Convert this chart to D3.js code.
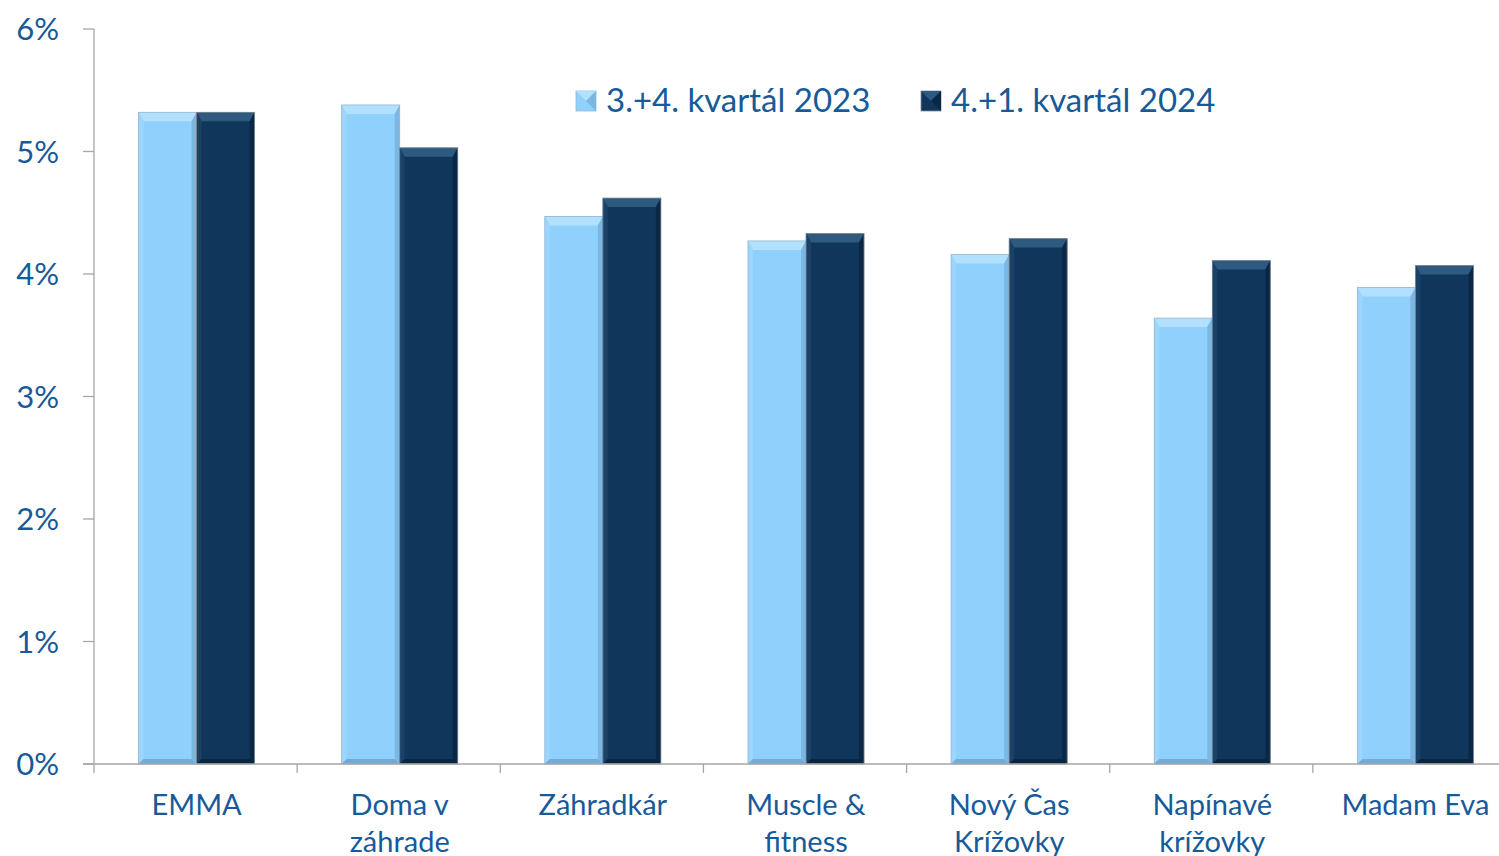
<!DOCTYPE html>
<html>
<head>
<meta charset="utf-8">
<script src="https://cdn.jsdelivr.net/npm/d3@7"></script>
<style>
  body { margin: 0; background: #fff; }
  svg text { font-family: Lato, "Open Sans", sans-serif; fill: #175a9a; }
</style>
</head>
<body>
<div class="chart"></div>
<script>
const categories = ['EMMA', 'Doma v záhrade', 'Záhradkár', 'Muscle & fitness', 'Nový Čas Krížovky', 'Napínavé krížovky', 'Madam Eva'];
const labelLines = [['EMMA'], ['Doma v', 'záhrade'], ['Záhradkár'], ['Muscle &', 'fitness'], ['Nový Čas', 'Krížovky'], ['Napínavé', 'krížovky'], ['Madam Eva']];
const seriesNames = ['3.+4. kvartál 2023', '4.+1. kvartál 2024'];
const values2023 = [5.32, 5.38, 4.47, 4.27, 4.16, 3.64, 3.89];
const values2024 = [5.32, 5.03, 4.62, 4.33, 4.29, 4.11, 4.07];
const yTicks = [0, 1, 2, 3, 4, 5, 6];

const width = 1499, height = 856;
const plotLeft = 94, plotTop = 29, plotBottom = 764, plotRight = 1516;

const svg = d3.select('.chart').append('svg')
  .attr('width', width).attr('height', height);

const x0 = d3.scaleBand().domain(categories).range([plotLeft, plotRight]).padding(0);
const x1 = d3.scaleBand().domain(seriesNames).range([0, x0.bandwidth()]).paddingInner(0).paddingOuter(0.75);
const y = d3.scaleLinear().domain([0, 6]).range([plotBottom, plotTop]);

// colours: base, top bevel, left bevel, right bevel, bottom bevel
const pal = [
  {base: '#8fd0fd', top: '#b2e1ff', left: '#9cd6ff', right: '#7ab7e3', bot: '#72abd6', edge: '#9ab6cc'},
  {base: '#10365b', top: '#2f5a80', left: '#1a4269', right: '#0a2846', bot: '#092540', edge: '#7f8c99'}
];

// axes
svg.append('line').attr('x1', plotLeft).attr('x2', plotLeft).attr('y1', plotTop).attr('y2', plotBottom)
  .attr('stroke', '#a6a6a6').attr('stroke-width', 1.3);
svg.selectAll('.ytick').data(yTicks).enter().append('line')
  .attr('x1', plotLeft - 11).attr('x2', plotLeft)
  .attr('y1', d => y(d)).attr('y2', d => y(d))
  .attr('stroke', '#a6a6a6').attr('stroke-width', 1.3);
svg.selectAll('.ylab').data(yTicks).enter().append('text')
  .attr('x', 59).attr('y', d => y(d) + 11)
  .attr('text-anchor', 'end').attr('font-size', 31)
  .text(d => d + '%');

const rows = categories.map((c, i) => ({cat: c, vals: [values2023[i], values2024[i]]}));

const g = svg.selectAll('.grp').data(rows).enter().append('g')
  .attr('transform', d => `translate(${x0(d.cat)},0)`);

g.each(function(d) {
  const grp = d3.select(this);
  d.vals.forEach((v, s) => {
    const c = pal[s];
    const bx = x1(seriesNames[s]) + 1, bw = x1.bandwidth();
    const by = y(v), bh = plotBottom - by;
    const tb = 9, sb = 5, bb = 5;
    grp.append('rect').attr('x', bx).attr('y', by).attr('width', bw).attr('height', bh)
      .attr('fill', c.base);
    // bevels
    const x2 = bx + bw, y2 = by + bh;
    grp.append('polygon').attr('fill', c.top)
      .attr('points', `${bx},${by} ${x2},${by} ${x2 - sb},${by + tb} ${bx + sb},${by + tb}`);
    grp.append('polygon').attr('fill', c.left)
      .attr('points', `${bx},${by} ${bx + sb},${by + tb} ${bx + sb},${y2 - bb} ${bx},${y2}`);
    grp.append('polygon').attr('fill', c.right)
      .attr('points', `${x2},${by} ${x2 - sb},${by + tb} ${x2 - sb},${y2 - bb} ${x2},${y2}`);
    grp.append('polygon').attr('fill', c.bot)
      .attr('points', `${bx},${y2} ${bx + sb},${y2 - bb} ${x2 - sb},${y2 - bb} ${x2},${y2}`);
    grp.append('rect').attr('x', bx).attr('y', by).attr('width', bw).attr('height', bh)
      .attr('fill', 'none').attr('stroke', c.edge).attr('stroke-width', 0.8);
  });
});

// x axis line + tick marks at band edges
svg.append('line').attr('x1', plotLeft - 11).attr('x2', width).attr('y1', plotBottom).attr('y2', plotBottom)
  .attr('stroke', '#a6a6a6').attr('stroke-width', 1.3);
svg.selectAll('.xtick').data(categories).enter().append('line')
  .attr('x1', d => x0(d)).attr('x2', d => x0(d))
  .attr('y1', plotBottom).attr('y2', plotBottom + 9)
  .attr('stroke', '#a6a6a6').attr('stroke-width', 1.3);

// category labels
const xl = svg.selectAll('.xlab').data(categories).enter().append('text')
  .attr('text-anchor', 'middle').attr('font-size', 29)
  .attr('x', d => x0(d) + x0.bandwidth() / 2)
  .attr('y', 815);
xl.each(function(d, i) {
  const t = d3.select(this);
  labelLines[i].forEach((ln, k) => {
    t.append('tspan').attr('x', x0(d) + x0.bandwidth() / 2 + 1).attr('dy', k ? 37 : 0).text(ln);
  });
});

// legend
const legX = [576, 921];
seriesNames.forEach((name, s) => {
  const c = pal[s];
  const lg = svg.append('g').attr('transform', `translate(${legX[s]},91)`);
  lg.append('rect').attr('width', 20).attr('height', 20).attr('fill', c.base).attr('stroke', c.edge).attr('stroke-width', 0.8);
  lg.append('polygon').attr('fill', c.top).attr('points', '0,0 20,0 10,10');
  lg.append('polygon').attr('fill', c.right).attr('points', '20,0 20,20 10,10');
  lg.append('text').attr('x', 30).attr('y', 21).attr('font-size', 33).text(name);
});
</script>
</body>
</html>
